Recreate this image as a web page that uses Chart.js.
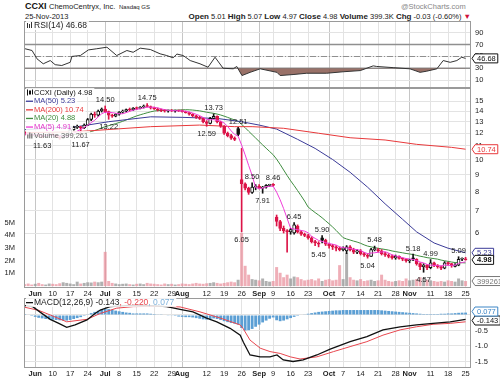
<!DOCTYPE html>
<html>
<head>
<meta charset="utf-8">
<script src="https://cdn.jsdelivr.net/npm/chart.js@4.4.1/dist/chart.umd.min.js"></script>
<style>
  body { margin: 0; background: #fff; width: 500px; height: 378px; overflow: hidden; position: relative;
         font-family: "Liberation Sans", Arial, sans-serif; }
  canvas { position: absolute; left: 0; }
  .hd { position: absolute; white-space: nowrap; color: #222; }
</style>
</head>
<body>
<div class="hd" style="left:25px;top:1px;font-size:9px;font-weight:bold;color:#111">CCXI</div>
<div class="hd" style="left:49px;top:2px;font-size:7.5px">ChemoCentryx, Inc.</div>
<div class="hd" style="left:119px;top:3.5px;font-size:6px">Nasdaq GS</div>
<div class="hd" style="left:25px;top:12px;font-size:7.5px">25-Nov-2013</div>
<div class="hd" style="left:401px;top:2px;font-size:7.5px;color:#888">@StockCharts.com</div>
<div class="hd" id="quote" style="right:29px;top:11.5px;font-size:7.5px"></div>

<canvas id="rsi" width="500" height="67" style="top:21px"></canvas>
<canvas id="price" width="500" height="210" style="top:88px"></canvas>
<canvas id="macd" width="500" height="80" style="top:298px"></canvas>

<script>
'use strict';

const FONT = '"Liberation Sans", Arial, sans-serif';

// trading-day index: 0 = 29 May 2013 ... 126 = 25 Nov 2013
const tickIdx = [3, 8, 13, 18, 23, 27, 32, 37, 42, 45, 52, 57, 62, 67, 71, 76, 81, 87, 91, 96, 101, 106, 110, 116, 121, 126];
const tickText = ['Jun', '10', '17', '24', 'Jul', '8', '15', '22', '29', 'Aug', '12', '19', '26', 'Sep', '9', '16', '23', 'Oct', '7', '14', '21', '28', 'Nov', '11', '18', '25'];
const monthIdx = [3, 23, 45, 67, 87, 110];

// daily [open, high, low, close]
const ohlc = [
  [12.05, 12.15, 11.85, 11.95], [11.95, 12.0, 11.8, 11.9], [11.9, 11.95, 11.75, 11.8], [11.8, 11.95, 11.7, 11.9],
  [11.9, 11.95, 11.7, 11.8], [11.8, 11.85, 11.63, 11.7], [11.7, 11.9, 11.65, 11.85], [11.85, 12.0, 11.8, 11.95],
  [11.95, 12.0, 11.8, 11.85], [11.85, 11.9, 11.65, 11.7], [11.7, 11.75, 11.5, 11.6], [11.6, 11.8, 11.55, 11.75],
  [11.75, 11.9, 11.7, 11.8], [11.9, 12.4, 11.85, 12.3], [12.3, 12.6, 12.25, 12.5], [12.5, 12.7, 12.4, 12.55],
  [12.5, 12.6, 11.67, 12.45], [12.45, 12.8, 12.4, 12.7], [12.7, 13.3, 12.65, 13.2], [13.2, 13.8, 13.1, 13.7],
  [13.7, 13.9, 13.4, 13.6], [13.6, 14.1, 13.5, 14.0], [14.0, 14.3, 13.9, 14.2], [14.2, 14.5, 13.85, 13.95],
  [13.95, 14.0, 13.22, 13.6], [13.6, 13.7, 13.4, 13.5], [13.5, 13.75, 13.45, 13.7], [13.7, 13.95, 13.6, 13.9],
  [13.9, 14.1, 13.8, 14.0], [14.0, 14.2, 13.9, 14.15], [14.15, 14.3, 14.0, 14.1], [14.1, 14.35, 14.05, 14.3],
  [14.3, 14.4, 14.15, 14.25], [14.25, 14.45, 14.2, 14.4], [14.4, 14.6, 14.3, 14.5], [14.5, 14.75, 14.4, 14.45],
  [14.45, 14.5, 14.2, 14.3], [14.3, 14.4, 14.15, 14.2], [14.2, 14.3, 14.0, 14.1], [14.1, 14.2, 13.95, 14.05],
  [14.05, 14.15, 13.9, 14.0], [14.0, 14.1, 13.9, 14.05], [14.05, 14.15, 13.95, 14.0], [14.0, 14.1, 13.9, 14.05],
  [14.05, 14.1, 13.95, 14.0], [14.0, 14.1, 13.9, 13.95], [13.95, 14.0, 13.8, 13.85], [13.85, 13.9, 13.6, 13.7],
  [13.7, 13.75, 13.45, 13.55], [13.55, 13.6, 13.3, 13.4], [13.4, 13.5, 13.2, 13.3], [13.3, 13.35, 12.9, 13.0],
  [13.0, 13.1, 12.59, 12.85], [12.85, 13.4, 12.8, 13.3], [13.3, 13.73, 13.25, 13.5], [13.5, 13.55, 12.9, 13.0],
  [13.0, 13.05, 12.5, 12.6], [12.6, 12.65, 11.9, 12.0], [12.0, 12.1, 11.7, 11.8], [11.8, 11.9, 11.5, 11.6],
  [11.6, 11.7, 11.4, 11.5], [12.4, 12.51, 11.8, 11.9], [8.7, 10.8, 6.05, 8.45], [8.45, 8.5, 8.1, 8.2],
  [8.2, 8.25, 7.85, 7.95], [7.95, 8.5, 7.9, 8.25], [8.25, 8.4, 8.1, 8.3], [8.3, 8.4, 8.15, 8.2],
  [8.2, 8.3, 7.91, 8.25], [8.25, 8.4, 8.2, 8.35], [8.35, 8.42, 8.3, 8.4], [8.4, 8.46, 8.3, 8.35],
  [6.7, 6.8, 6.3, 6.5], [6.5, 6.55, 6.1, 6.2], [6.2, 6.3, 6.0, 6.1], [6.1, 6.15, 5.25, 6.05],
  [6.05, 6.2, 5.95, 6.15], [6.0, 6.45, 5.95, 6.35], [6.3, 6.35, 6.0, 6.05], [6.05, 6.1, 5.9, 5.95],
  [5.95, 6.0, 5.85, 5.9], [5.9, 5.95, 5.75, 5.8], [5.8, 5.85, 5.6, 5.65], [5.65, 5.7, 5.5, 5.6],
  [5.6, 5.65, 5.45, 5.55], [5.8, 5.9, 5.6, 5.7], [5.7, 5.75, 5.5, 5.55], [5.55, 5.6, 5.4, 5.5],
  [5.5, 5.55, 5.35, 5.45], [5.45, 5.5, 5.3, 5.4], [5.4, 5.45, 5.3, 5.35], [5.35, 5.45, 5.3, 5.4],
  [5.3, 5.5, 5.2, 5.45], [5.45, 5.5, 5.3, 5.35], [5.35, 5.4, 5.2, 5.25], [5.25, 5.35, 5.2, 5.3],
  [5.3, 5.35, 5.15, 5.2], [5.2, 5.25, 5.1, 5.15], [5.15, 5.2, 5.04, 5.1], [5.1, 5.4, 5.1, 5.35],
  [5.35, 5.48, 5.3, 5.35], [5.35, 5.4, 5.25, 5.3], [5.3, 5.35, 5.15, 5.2], [5.2, 5.25, 5.1, 5.15],
  [5.15, 5.2, 5.05, 5.1], [5.1, 5.15, 5.0, 5.05], [5.05, 5.15, 5.0, 5.1], [5.1, 5.12, 5.0, 5.03],
  [5.03, 5.05, 4.95, 5.0], [5.0, 5.02, 4.9, 4.95], [4.95, 5.0, 4.88, 4.98], [5.05, 5.18, 4.95, 5.0],
  [5.0, 5.02, 4.8, 4.85], [4.85, 4.88, 4.65, 4.75], [4.75, 4.85, 4.57, 4.8], [4.8, 4.82, 4.65, 4.72],
  [4.72, 4.99, 4.68, 4.88], [4.88, 4.9, 4.75, 4.8], [4.8, 4.82, 4.7, 4.75], [4.75, 4.78, 4.65, 4.7],
  [4.7, 4.92, 4.68, 4.88], [4.88, 4.9, 4.8, 4.85], [4.85, 4.86, 4.73, 4.78], [4.76, 4.85, 4.74, 4.8],
  [4.8, 5.09, 4.78, 5.0], [5.0, 5.05, 4.95, 5.01], [5.01, 5.07, 4.97, 4.98]
];

// daily volume, millions of shares
const volume = [
  0.15, 0.2, 0.12, 0.18, 0.25, 0.15, 0.12, 0.2, 0.18, 0.15, 0.22, 0.3, 0.25, 0.2, 0.15, 0.35, 0.2, 0.25, 0.3, 0.28, 0.35, 0.3,
  0.35, 2.7,
  0.4, 0.25, 0.2, 0.15, 0.18, 0.2, 0.15, 0.12, 0.18, 0.2, 0.15, 0.25, 0.2, 0.18, 0.15, 0.12, 0.2, 0.15, 0.18, 0.12,
  0.15, 0.2, 0.18, 0.15, 0.2, 0.25, 0.2, 0.18, 0.22, 0.25, 0.3, 0.25, 0.2, 0.25, 0.3, 0.35, 0.3, 0.5,
  4.2, 1.6, 0.9, 0.55, 0.5, 0.45, 0.6, 0.4, 0.35, 0.4,
  1.5, 1.05, 0.7, 0.9, 0.6, 0.75, 0.7, 0.55, 0.45, 0.5,
  0.55, 0.45, 0.6, 0.4, 0.5, 0.55, 0.45, 0.5, 1.65, 0.55,
  2.6, 0.7, 0.5, 0.45, 0.55, 0.4, 0.45, 0.5, 0.4, 0.45,
  0.9, 0.5, 0.4, 0.35, 0.4, 0.45, 0.4, 0.6, 0.45, 0.5,
  0.55, 0.7, 0.65, 0.5, 0.45, 0.4, 0.35, 0.4, 0.35, 0.45,
  0.4, 0.35, 0.6, 0.45, 0.399261
];

// long moving averages as [day index, value]
const ma50Pts = [[0, 12.3], [8, 12.45], [15, 12.56], [24, 13.0], [36, 13.45], [45, 13.4], [55, 13.3], [62, 13.0],
  [67, 12.7], [72, 12.35], [78, 11.5], [83, 10.8], [88, 10.0], [93, 9.15], [98, 8.25], [103, 7.35], [108, 6.6],
  [112, 6.05], [117, 5.6], [121, 5.4], [126, 5.23]];
const ma200Pts = [[0, 12.05], [15, 12.13], [36, 12.56], [50, 12.7], [60, 12.56], [65, 12.56], [74, 12.42], [84, 12.0],
  [93, 11.63], [103, 11.45], [112, 11.11], [122, 10.88], [126, 10.74]];

const rsiPts = [[0.1, 63], [2.1, 60], [3.5, 46], [5.3, 37.5], [7.3, 43], [8.7, 36], [10.6, 34.6], [13, 40], [13.5, 50],
  [15.9, 51.5], [18.2, 61], [20.6, 63], [23.5, 65.6], [26.3, 51.5], [29.2, 60], [31, 57], [33, 64], [35.9, 61.7],
  [38.7, 54.4], [40.6, 51.5], [42.4, 47.6], [43.5, 54], [45.3, 51.5], [47.3, 43], [50.1, 37.5], [52.4, 31.7],
  [54.4, 48.6], [56.7, 30], [59.6, 29], [60.6, 33], [62.1, 17.6], [64.4, 23], [67.3, 29], [72.1, 23], [73, 17.6],
  [76.7, 19.3], [80.6, 21.5], [86.3, 21.5], [91, 24], [95.9, 26], [99.6, 34], [100.6, 33], [105.3, 31], [110.1, 29],
  [113, 23], [114.9, 25], [117.8, 29], [119.6, 43], [121.6, 40], [123.5, 43], [124.9, 48.6], [126, 46.68]];

const macdPts = [[0, 0.3], [2.3, 0.27], [4.3, 0.1], [7.3, -0.14], [9.6, -0.26], [12, -0.4], [14.4, -0.32], [17.8, -0.16],
  [20.1, 0.05], [21.6, 0.16], [24.4, 0.27], [30, 0.31], [36, 0.3], [40.6, 0.27], [44.4, 0.18], [48.1, 0.1], [52, -0.1],
  [54.9, -0.22], [58.7, -0.43], [61.6, -0.65], [62.5, -0.88], [64.4, -1.29], [67.3, -1.35], [70.1, -1.35], [72.1, -1.29],
  [73.9, -1.45], [76.7, -1.5], [79.6, -1.45], [83.5, -1.29], [87.3, -1.1], [93, -0.86], [97.8, -0.7], [102.4, -0.48],
  [107.3, -0.38], [112, -0.32], [116.7, -0.27], [121.6, -0.22], [126, -0.143]];
const signalPts = [[0, 0.25], [4, 0.15], [7.3, 0], [12, -0.22], [17.8, -0.14], [21.6, 0.05], [26.3, 0.22], [31, 0.27],
  [38, 0.28], [44.4, 0.26], [50.1, 0.1], [55.9, -0.1], [61.6, -0.32], [62.5, -0.45], [64.4, -0.81], [67.3, -1.07],
  [70.1, -1.18], [73, -1.24], [75.9, -1.35], [78.7, -1.42], [83.5, -1.35], [88.3, -1.18], [93, -1.02], [97.8, -0.86],
  [102.4, -0.65], [107.3, -0.48], [112, -0.38], [116.7, -0.3], [121.6, -0.27], [126, -0.22]];
const histVals = [
  0.03, 0.0, -0.03, -0.06, -0.09, -0.11, -0.13, -0.14, -0.15, -0.16, -0.17, -0.18, -0.18, -0.16, -0.13, -0.1, -0.07, -0.03,
  0.01, 0.06, 0.1, 0.14, 0.18, 0.2, 0.19, 0.17, 0.14, 0.12, 0.1, 0.08, 0.07, 0.05, 0.05, 0.05, 0.05, 0.05, 0.04, 0.03,
  0.02, 0.01, 0.0, -0.01, -0.02, -0.03, -0.05, -0.06, -0.07, -0.07, -0.08, -0.1, -0.12, -0.14, -0.15, -0.13, -0.11,
  -0.13, -0.16, -0.2, -0.23, -0.26, -0.28, -0.31, -0.42, -0.5, -0.49, -0.45, -0.38, -0.31, -0.24, -0.18, -0.12, -0.08,
  -0.17, -0.2, -0.18, -0.14, -0.1, -0.06, -0.03, 0.0, 0.02, 0.04, 0.06, 0.08, 0.1, 0.11, 0.12, 0.13, 0.14, 0.15, 0.15,
  0.16, 0.16, 0.16, 0.16, 0.16, 0.16, 0.16, 0.16, 0.16, 0.16, 0.16, 0.15, 0.14, 0.13, 0.12, 0.11, 0.1, 0.09, 0.08,
  0.07, 0.06, 0.05, 0.04, 0.03, 0.03, 0.03, 0.03, 0.03, 0.04, 0.04, 0.05, 0.05, 0.06, 0.07, 0.075, 0.077
];

// swing highs / lows printed on the price panel
const swingLabels = [[5, 11.63, 'L'], [16, 11.67, 'L'], [23, 14.50, 'H'], [24, 13.22, 'L'], [35, 14.75, 'H'],
  [52, 12.59, 'L'], [54, 13.73, 'H'], [61, 12.51, 'H'], [62, 6.05, 'L'], [65, 8.50, 'H'], [68, 7.91, 'L'],
  [71, 8.46, 'H'], [77, 6.45, 'H'], [84, 5.45, 'L'], [85, 5.90, 'H'], [98, 5.04, 'L'], [100, 5.48, 'H'],
  [111, 5.18, 'H'], [114, 4.57, 'L'], [116, 4.99, 'H'], [124, 5.09, 'H']];

const priceTicks = [6, 7, 8, 9, 10, 11, 12, 13, 14, 15];
const volTicks = [1, 2, 3, 4, 5];
const rsiTicks = [10, 30, 50, 70, 90];
const macdTicks = [-1.5, -1, -0.5, 0];

const closes = ohlc.map(d => d[3]);
const last = ohlc[ohlc.length - 1];
const prevClose = closes[closes.length - 2];

// header quote line
const chg = last[3] - prevClose;
document.getElementById('quote').innerHTML =
  `<b style="font-size:8px">Open</b> ${last[0].toFixed(2)} <b style="font-size:8px">High</b> ${last[1].toFixed(2)} ` +
  `<b style="font-size:8px">Low</b> ${last[2].toFixed(2)} <b style="font-size:8px">Close</b> ${last[3].toFixed(2)} ` +
  `<b style="font-size:8px">Volume</b> ${(volume[volume.length - 1] * 1000).toFixed(1)}K ` +
  `<b style="font-size:8px">Chg</b> ${chg.toFixed(2)} (${(chg / prevClose * 100).toFixed(2)}%) <span style="color:#d0103a">&#9660;</span>`;

function movingAvg(n) {
  return closes.map((c, i) => {
    const w = closes.slice(Math.max(0, i - n + 1), i + 1);
    return { x: i, y: w.reduce((a, b) => a + b, 0) / w.length };
  });
}
const pts = arr => arr.map(([x, y]) => ({ x, y }));

const RED = '#dc1448';
const upDay = ohlc.map((d, i) => d[3] >= (i ? closes[i - 1] : d[0]));
const candleColor = upDay.map(u => (u ? '#111' : RED));

const X_MIN = -0.2, X_MAX = 127.55;

function xScale(showLabels) {
  return {
    type: 'linear', min: X_MIN, max: X_MAX, offset: false,
    afterBuildTicks: s => { s.ticks = tickIdx.map(v => ({ value: v })); },
    afterFit: s => { s.height = showLabels ? 10 : 0; s.paddingLeft = 0; s.paddingRight = 0; },
    grid: { drawTicks: false, offset: false,
      color: c => (c.tick && monthIdx.includes(c.tick.value) ? '#c6c6c6' : '#e3e3e3') },
    border: { display: false },
    ticks: {
      display: showLabels, autoSkip: false, maxRotation: 0, padding: 1, color: '#222',
      font: c => ({ family: FONT, size: 7.5, weight: c.tick && monthIdx.includes(c.tick.value) ? 'bold' : 'normal' }),
      callback: v => tickText[tickIdx.indexOf(v)]
    }
  };
}

function rightAxis(extra) {
  return Object.assign({
    position: 'right',
    afterFit: s => { s.width = 29; s.paddingTop = 0; s.paddingBottom = 0; },
    grid: { drawTicks: false, color: '#e3e3e3' },
    border: { display: false },
    ticks: { padding: 4, color: '#222', font: { family: FONT, size: 7.5 } }
  }, extra);
}

const base = {
  responsive: false, animation: false, devicePixelRatio: 1, events: [],
  plugins: { legend: { display: false }, tooltip: { enabled: false } }
};

const framePlugin = {
  id: 'frame',
  afterDraw(chart) {
    const { ctx, chartArea: a } = chart;
    ctx.save();
    ctx.strokeStyle = '#9a9a9a';
    ctx.lineWidth = 1;
    ctx.strokeRect(Math.round(a.left) + 0.5, Math.round(a.top) + 0.5, Math.round(a.width) - 1, Math.round(a.height) - 1);
    ctx.restore();
  }
};

function tag(ctx, x, y, text, color, bold) {
  ctx.save();
  ctx.font = (bold ? 'bold ' : '') + '7.5px ' + FONT;
  const w = ctx.measureText(text).width + 4, h = 9;
  ctx.beginPath();
  ctx.moveTo(x, y);
  ctx.lineTo(x + 3, y - h / 2);
  ctx.lineTo(x + 3 + w, y - h / 2);
  ctx.lineTo(x + 3 + w, y + h / 2);
  ctx.lineTo(x + 3, y + h / 2);
  ctx.closePath();
  ctx.fillStyle = '#fff';
  ctx.fill();
  ctx.strokeStyle = color;
  ctx.lineWidth = 1;
  ctx.stroke();
  ctx.fillStyle = color;
  ctx.textAlign = 'left';
  ctx.textBaseline = 'middle';
  ctx.fillText(text, x + 5, y + 0.5);
  ctx.restore();
}

function legendText(ctx, x, y, parts, font) {
  ctx.save();
  ctx.font = font;
  ctx.textBaseline = 'middle';
  ctx.textAlign = 'left';
  let cx = x;
  const total = parts.reduce((s, p) => s + ctx.measureText(p[0]).width, 0);
  ctx.fillStyle = 'rgba(255,255,255,0.85)';
  ctx.fillRect(x - 8, y - 4.5, total + 10, 9);
  parts.forEach(([t, c]) => { ctx.fillStyle = c; ctx.fillText(t, cx, y); cx += ctx.measureText(t).width; });
  ctx.restore();
}

// ---------- RSI ----------
new Chart(document.getElementById('rsi'), {
  type: 'line',
  data: {
    datasets: [{
      data: pts(rsiPts), borderColor: '#333', borderWidth: 1, pointRadius: 0, tension: 0,
      fill: { target: { value: 30 }, above: 'rgba(0,0,0,0)', below: 'rgba(135,88,78,0.85)' }
    }]
  },
  options: Object.assign({}, base, {
    layout: { padding: { left: 24 } },
    scales: {
      x: xScale(false),
      y: rightAxis({ min: -3.5, max: 110, afterBuildTicks: s => { s.ticks = rsiTicks.map(v => ({ value: v })); } })
    }
  }),
  plugins: [framePlugin, {
    id: 'rsiLines',
    beforeDatasetsDraw(chart) {
      const { ctx, chartArea: a, scales: { y } } = chart;
      ctx.save();
      ctx.strokeStyle = '#8f8f8f';
      ctx.lineWidth = 1.5;
      [30, 70].forEach(v => {
        const py = y.getPixelForValue(v);
        ctx.beginPath(); ctx.moveTo(a.left, py); ctx.lineTo(a.right, py); ctx.stroke();
      });
      ctx.lineWidth = 1;
      ctx.setLineDash([6, 2, 1, 2]);
      const p50 = Math.round(y.getPixelForValue(50)) + 0.5;
      ctx.beginPath(); ctx.moveTo(a.left, p50); ctx.lineTo(a.right, p50); ctx.stroke();
      ctx.restore();
    },
    afterDraw(chart) {
      const { ctx, chartArea: a, scales: { y } } = chart;
      const v = rsiPts[rsiPts.length - 1][1];
      legendText(ctx, a.left + 10, a.top + 4.5, [['RSI(14) ' + v.toFixed(2), '#222']], '8.5px ' + FONT);
      ctx.save();
      ctx.fillStyle = '#333';
      ctx.fillRect(a.left + 3, a.top + 2, 1, 5); ctx.fillRect(a.left + 5, a.top + 3, 1, 4); ctx.fillRect(a.left + 7, a.top + 1, 1, 6);
      ctx.restore();
      tag(ctx, a.right + 1, y.getPixelForValue(v), v.toFixed(2), '#111', false);
    }
  }]
});

// ---------- Price + volume ----------
const ma20 = movingAvg(20);
const ma5 = movingAvg(5);

new Chart(document.getElementById('price'), {
  type: 'bar',
  data: {
    datasets: [
      {
        type: 'bar', yAxisID: 'vol', order: 10, grouped: false, barPercentage: 0.85, categoryPercentage: 1,
        data: volume.map((v, i) => ({ x: i, y: v })),
        backgroundColor: upDay.map(u => (u ? 'rgba(150,150,150,0.75)' : 'rgba(232,140,152,0.7)'))
      },
      { type: 'line', yAxisID: 'price', order: 6, data: pts(ma200Pts), borderColor: '#e8393b', borderWidth: 1, pointRadius: 0 },
      { type: 'line', yAxisID: 'price', order: 6, data: pts(ma50Pts), borderColor: '#3b3b98', borderWidth: 1, pointRadius: 0 },
      { type: 'line', yAxisID: 'price', order: 6, data: ma20, borderColor: '#3f8d3f', borderWidth: 1, pointRadius: 0 },
      {
        type: 'bar', yAxisID: 'price', order: 4, grouped: false, barThickness: 1,
        data: ohlc.map((d, i) => ({ x: i, y: [d[2], d[1]] })), backgroundColor: candleColor
      },
      {
        type: 'bar', yAxisID: 'price', order: 3, grouped: false, barThickness: 3, minBarLength: 1,
        borderWidth: 1, borderSkipped: false,
        data: ohlc.map((d, i) => ({ x: i, y: [Math.min(d[0], d[3]), Math.max(d[0], d[3])] })),
        backgroundColor: ohlc.map((d, i) => (d[3] >= d[0] ? '#fff' : candleColor[i])),
        borderColor: candleColor
      },
      { type: 'line', yAxisID: 'price', order: 2, data: ma5, borderColor: '#f03cd8', borderWidth: 1, pointRadius: 0 }
    ]
  },
  options: Object.assign({}, base, {
    scales: {
      x: xScale(true),
      vol: {
        type: 'linear', position: 'left', min: -0.15, max: 15.62,
        afterBuildTicks: s => { s.ticks = volTicks.map(v => ({ value: v })); },
        afterFit: s => { s.width = 24; s.paddingTop = 0; s.paddingBottom = 0; },
        grid: { display: false }, border: { display: false },
        ticks: { padding: 1, color: '#222', font: { family: FONT, size: 7.5 }, callback: v => v + 'M' }
      },
      price: rightAxis({
        type: 'logarithmic', min: 4.096, max: 16.43,
        afterBuildTicks: s => { s.ticks = priceTicks.map(v => ({ value: v })); },
        ticks: { padding: 4, color: '#222', font: { family: FONT, size: 7.5 }, callback: v => String(v) }
      })
    }
  }),
  plugins: [framePlugin, {
    id: 'priceMarks',
    afterDatasetsDraw(chart) {
      const { ctx, scales: { x, price } } = chart;
      ctx.save();
      ctx.font = '7.5px ' + FONT;
      ctx.fillStyle = '#222';
      ctx.textAlign = 'center';
      swingLabels.forEach(([i, v, side]) => {
        const px = x.getPixelForValue(i), py = price.getPixelForValue(v);
        if (side === 'H') { ctx.textBaseline = 'bottom'; ctx.fillText(v.toFixed(2), px, py - 2); }
        else { ctx.textBaseline = 'top'; ctx.fillText(v.toFixed(2), px, py + 4); }
      });
      ctx.restore();
    },
    afterDraw(chart) {
      const { ctx, chartArea: a, scales: { price, vol } } = chart;
      const lx = a.left + 10, f = '7.5px ' + FONT;
      const rows = [
        [['CCXI (Daily) ' + last[3].toFixed(2), '#111']],
        [['MA(50) 5.23', '#3b3b98']],
        [['MA(200) 10.74', '#e8393b']],
        [['MA(20) 4.88', '#3f8d3f']],
        [['MA(5) 4.91', '#e030c8']],
        [['Volume 399,261', '#666']]
      ];
      const icons = ['#111', '#3b3b98', '#e8393b', '#3f8d3f', '#f03cd8', '#888'];
      rows.forEach((r, k) => {
        const y = a.top + 4.5 + k * 8.6;
        legendText(ctx, lx, y, r, f);
        ctx.save();
        ctx.fillStyle = icons[k];
        if (k === 0) { ctx.fillRect(a.left + 3, y - 3, 1, 6); ctx.fillRect(a.left + 5, y - 2, 2, 4); ctx.fillRect(a.left + 8, y - 3, 1, 5); }
        else if (k === 5) { ctx.fillRect(a.left + 3, y - 1, 1.5, 4); ctx.fillRect(a.left + 5, y - 3, 1.5, 6); ctx.fillRect(a.left + 7, y - 2, 1.5, 5); }
        else { ctx.fillRect(a.left + 2, y - 0.5, 7, 1.3); }
        ctx.restore();
      });
      const r = a.right + 1;
      tag(ctx, r, price.getPixelForValue(10.74), '10.74', '#e8393b', false);
      tag(ctx, r, price.getPixelForValue(5.23), '5.23', '#3b3b98', false);
      tag(ctx, r, price.getPixelForValue(last[3]), last[3].toFixed(2), '#111', true);
      tag(ctx, r, vol.getPixelForValue(volume[volume.length - 1]), '399261', '#777', false);
    }
  }]
});

// ---------- MACD ----------
new Chart(document.getElementById('macd'), {
  type: 'bar',
  data: {
    datasets: [
      {
        type: 'bar', order: 5, grouped: false, barPercentage: 0.8, categoryPercentage: 1,
        data: histVals.map((v, i) => ({ x: i, y: v })), backgroundColor: '#5c9fd4'
      },
      { type: 'line', order: 2, data: pts(signalPts), borderColor: '#e8474f', borderWidth: 1, pointRadius: 0 },
      { type: 'line', order: 1, data: pts(macdPts), borderColor: '#111', borderWidth: 1.3, pointRadius: 0 }
    ]
  },
  options: Object.assign({}, base, {
    layout: { padding: { left: 24 } },
    scales: {
      x: xScale(true),
      y: rightAxis({
        min: -1.71, max: 0.548,
        afterBuildTicks: s => { s.ticks = macdTicks.map(v => ({ value: v })); },
        ticks: { padding: 4, color: '#222', font: { family: FONT, size: 7.5 }, callback: v => (v === 0 ? '' : v.toFixed(1)) }
      })
    }
  }),
  plugins: [framePlugin, {
    id: 'macdMarks',
    afterDraw(chart) {
      const { ctx, chartArea: a, scales: { y } } = chart;
      const m = macdPts[macdPts.length - 1][1], s = signalPts[signalPts.length - 1][1], h = histVals[histVals.length - 1];
      legendText(ctx, a.left + 10, a.top + 4.5,
        [['MACD(12,26,9) ' + m.toFixed(3), '#222'], [', ' + s.toFixed(3), '#e8474f'], [', ' + h.toFixed(3), '#7fb2dc']], '8.5px ' + FONT);
      ctx.save();
      ctx.fillStyle = '#111';
      ctx.fillRect(a.left + 2, a.top + 4, 7, 1.3);
      ctx.restore();
      let yh = y.getPixelForValue(h), ym = y.getPixelForValue(m);
      if (ym - yh < 9) { const mid = (ym + yh) / 2; yh = mid - 4.5; ym = mid + 4.5; }
      tag(ctx, a.right + 1, ym, m.toFixed(3), '#111', false);
      tag(ctx, a.right + 1, yh, h.toFixed(3), '#3d86c6', false);
    }
  }]
});
</script>
</body>
</html>
